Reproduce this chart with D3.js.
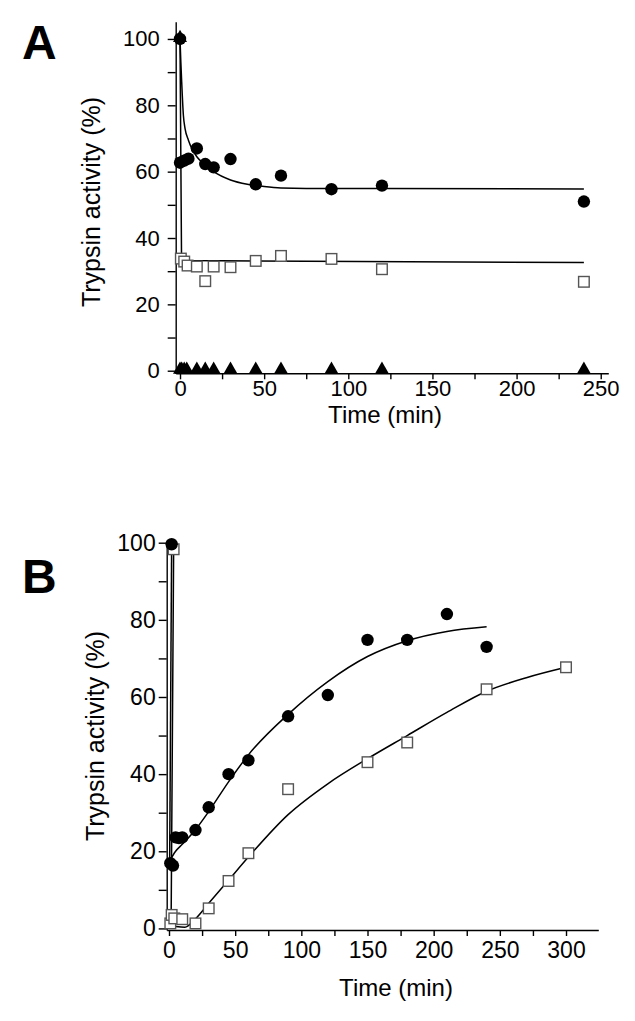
<!DOCTYPE html>
<html><head><meta charset="utf-8">
<script src="https://cdn.jsdelivr.net/npm/d3@7"></script>
<style>
html,body{margin:0;padding:0;background:#fff;}
svg text{font-family:"Liberation Sans",Arial,sans-serif;fill:#000;}
</style></head>
<body>
<svg id="chart" width="635" height="1021"></svg>
<script>
// ---------- Panel A data ----------
const aCircleTime = [0, 0, 2.5, 5, 10, 15, 20, 30, 45, 60, 90, 120, 240];
const aCircleVal  = [100, 62.7, 63.3, 63.9, 67.0, 62.3, 61.3, 63.8, 56.2, 58.8, 54.7, 55.8, 51.0];
const aSquareTime = [0.5, 2.5, 4.5, 10, 15, 20, 30, 45, 60, 90, 120, 240];
const aSquareVal  = [33.8, 32.9, 31.7, 31.4, 27.0, 31.4, 31.2, 33.1, 34.6, 33.7, 30.6, 26.8];
const aTriTime    = [0, 0, 1, 2.5, 4, 10, 15, 20, 30, 45, 60, 90, 120, 240];
const aTriVal     = [100, 0, 0, 0, 0, 0, 0, 0, 0, 0, 0, 0, 0, 0];
// fitted curves
const aCircleFitTime = [0, 0.5, 1, 2, 3, 5, 7, 10, 15, 20, 30, 40, 50, 60, 90, 120, 240];
const aCircleFitVal  = [100, 93, 87, 77, 73, 69.5, 67, 64.5, 62, 60, 57.5, 56.2, 55.5, 55.1, 54.9, 54.9, 54.8];
const aSquareFitTime = [0, 0.9, 2, 45, 240];
const aSquareFitVal  = [100, 34, 33.2, 33.1, 32.6];
const aYTicks = [0, 10, 20, 30, 40, 50, 60, 70, 80, 90, 100];
const aXTicks = [0, 25, 50, 75, 100, 125, 150, 175, 200, 225, 250];

// ---------- Panel B data ----------
const bCircleTime = [2, 1, 3, 5, 7.5, 10, 20, 30, 45, 60, 90, 120, 150, 180, 210, 240];
const bCircleVal  = [99.6, 16.9, 16.3, 23.6, 23.4, 23.6, 25.5, 31.4, 40.0, 43.6, 55.0, 60.5, 74.8, 74.8, 81.5, 73.0];
const bSquareTime = [3.5, 1, 2, 4, 10, 20, 30, 45, 60, 90, 150, 180, 240, 300];
const bSquareVal  = [98.3, 1.3, 3.5, 2.6, 2.4, 1.3, 5.2, 12.3, 19.5, 36.1, 43.1, 48.2, 62.0, 67.7];
// fitted curves: initial spike + smooth part
const bCircleSpikeTime = [2, 0.5];
const bCircleSpikeVal  = [99.6, 17.5];
const bCircleFitTime = [0.5, 5, 10, 20, 30, 45, 60, 90, 120, 150, 180, 210, 240];
const bCircleFitVal  = [17.5, 20, 21.8, 25.6, 30.3, 38, 45, 55.5, 64, 70.5, 74.6, 77, 78.2];
const bSquareSpikeTime = [3.5, 1.6, 5];
const bSquareSpikeVal  = [98.3, 1.5, 0.5];
const bSquareFitTime = [5, 12, 20, 30, 45, 60, 90, 120, 150, 180, 210, 240, 270, 300];
const bSquareFitVal  = [0.5, 0.3, 2.5, 6.5, 12.5, 18.5, 29.5, 37.5, 44, 50, 56, 61.5, 65, 67.7];
const bYTicks = [0, 10, 20, 30, 40, 50, 60, 70, 80, 90, 100];
const bXTicks = [0, 25, 50, 75, 100, 125, 150, 175, 200, 225, 250, 275, 300];

const yTitle = "Trypsin activity (%)";
const xTitle = "Time (min)";

const svg = d3.select("#chart");
svg.append("rect").attr("width", 635).attr("height", 1021).attr("fill", "#fff");

function zip(t, v) { return t.map((d, i) => ({t: d, v: v[i]})); }

function panel(cfg) {
  const x = d3.scaleLinear().domain(cfg.xDomain).range(cfg.xRange);
  const y = d3.scaleLinear().domain(cfg.yDomain).range(cfg.yRange);
  const g = svg.append("g");

  const yAxis = d3.axisLeft(y).tickValues(cfg.yTicks).tickSize(8).tickSizeOuter(0).tickPadding(cfg.yPad)
    .tickFormat(d => d % 20 === 0 ? d : "");
  const gy = g.append("g").attr("transform", `translate(${cfg.xRange[0]},0)`).call(yAxis);
  const xAxis = d3.axisBottom(x).tickValues(cfg.xTicks).tickSize(6).tickSizeOuter(0).tickPadding(cfg.xPad)
    .tickFormat(d => d % 50 === 0 ? d : "");
  const gx = g.append("g").attr("transform", `translate(0,${cfg.yRange[0]})`).call(xAxis);
  [gx, gy].forEach(a => {
    a.attr("font-size", null).attr("font-family", null);
    a.selectAll("path,line").attr("stroke", "#000").attr("stroke-width", 1.4);
    a.selectAll("text").style("font-size", cfg.tickFont + "px").attr("fill", "#000");
  });

  // titles
  g.append("text").attr("x", cfg.xTitleX).attr("y", cfg.xTitleY).attr("text-anchor", "middle")
    .style("font-size", "24px").text(xTitle);
  g.append("text").attr("transform", `translate(${cfg.yTitleX},${cfg.yTitleY}) rotate(-90)`)
    .attr("text-anchor", "middle").style("font-size", "25px").text(yTitle);
  g.append("text").attr("x", cfg.letterX).attr("y", cfg.letterY).style("font-size", "48px")
    .style("font-weight", "bold").text(cfg.letter);

  cfg.fits.forEach(f => {
    const line = d3.line().x(d => x(d.t)).y(d => y(d.v)).curve(f[2]);
    g.append("path").datum(zip(f[0], f[1])).attr("d", line)
      .attr("fill", "none").attr("stroke", "#000").attr("stroke-width", 1.5);
  });

  // markers
  if (cfg.squares) {
    g.selectAll(null).data(zip(cfg.squares[0], cfg.squares[1])).join("rect")
      .attr("x", d => x(d.t) - 5.3).attr("y", d => y(d.v) - 5.3)
      .attr("width", 10.6).attr("height", 10.6)
      .attr("fill", "#fff").attr("stroke", "#555").attr("stroke-width", 1.4);
  }
  if (cfg.triangles) {
    const tri = d3.symbol().type(d3.symbolTriangle).size(85);
    g.selectAll(null).data(zip(cfg.triangles[0], cfg.triangles[1])).join("path")
      .attr("d", tri).attr("transform", d => `translate(${x(d.t)},${y(d.v) - 1})`).attr("fill", "#000");
  }
  if (cfg.circles) {
    g.selectAll(null).data(zip(cfg.circles[0], cfg.circles[1])).join("circle")
      .attr("cx", d => x(d.t)).attr("cy", d => y(d.v)).attr("r", 6.2).attr("fill", "#000");
  }
}

panel({
  xDomain: [-2.56, 254.5], xRange: [175.7, 608.3],
  yDomain: [-0.78, 105.2], yRange: [373.3, 21.7],
  yTicks: aYTicks, xTicks: aXTicks, yPad: 8, xPad: 1, tickFont: 22,
  xTitleX: 385, xTitleY: 423, yTitleX: 100, yTitleY: 202,
  letter: "A", letterX: 22, letterY: 59,
  fits: [[aCircleFitTime, aCircleFitVal, d3.curveMonotoneX], [aSquareFitTime, aSquareFitVal, d3.curveLinear]],
  squares: [aSquareTime, aSquareVal],
  triangles: [aTriTime, aTriVal],
  circles: [aCircleTime, aCircleVal]
});

panel({
  xDomain: [-1.74, 324.4], xRange: [166.7, 598.3],
  yDomain: [-0.41, 100.7], yRange: [930, 540],
  yTicks: bYTicks, xTicks: bXTicks, yPad: 3, xPad: 6, tickFont: 23,
  xTitleX: 396, xTitleY: 996, yTitleX: 104, yTitleY: 736,
  letter: "B", letterX: 22, letterY: 593,
  fits: [[bCircleSpikeTime, bCircleSpikeVal, d3.curveLinear], [bCircleFitTime, bCircleFitVal, d3.curveMonotoneX],
         [bSquareSpikeTime, bSquareSpikeVal, d3.curveLinear], [bSquareFitTime, bSquareFitVal, d3.curveMonotoneX]],
  squares: [bSquareTime, bSquareVal],
  circles: [bCircleTime, bCircleVal]
});
</script>
</body></html>
